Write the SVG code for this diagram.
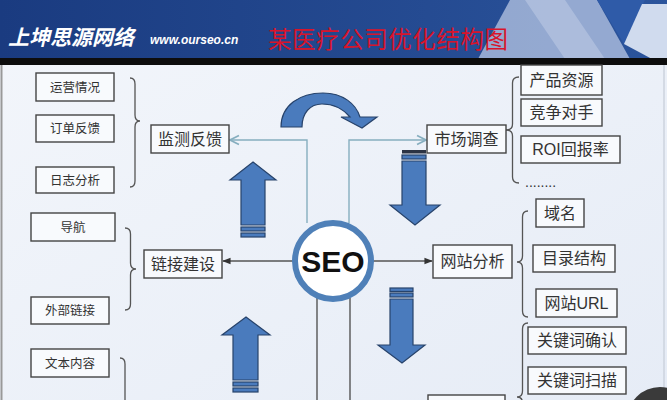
<svg xmlns="http://www.w3.org/2000/svg" width="667" height="400" viewBox="0 0 667 400">
<defs>
<linearGradient id="hdr" x1="0" y1="0" x2="1" y2="0"><stop offset="0" stop-color="#1a3b80"/><stop offset="1" stop-color="#2b549c"/></linearGradient>
<linearGradient id="bg" x1="0" y1="0" x2="1" y2="1"><stop offset="0" stop-color="#f3f6fb"/><stop offset="1" stop-color="#e6ecf6"/></linearGradient>
<marker id="ao" viewBox="0 0 10 10" refX="9" refY="5" markerWidth="8" markerHeight="8" orient="auto"><path d="M1,1 L9,5 L1,9" fill="none" stroke="#86aebf" stroke-width="1.5"/></marker>
<marker id="as" viewBox="0 0 10 10" refX="9" refY="5" markerWidth="6" markerHeight="6" orient="auto"><path d="M0,1 L10,5 L0,9 Z" fill="#333"/></marker>
<style>
.box{fill:#f8fafd;stroke:#444;stroke-width:1.4}
.s{font-family:"Noto Sans CJK SC","Liberation Sans",sans-serif;font-size:12.5px;fill:#333;text-anchor:middle}
.m{font-family:"Liberation Sans","Noto Sans CJK SC",sans-serif;font-size:16px;fill:#333;text-anchor:middle}
.br{fill:none;stroke:#555;stroke-width:1.3}
.blk{fill:#4a7bbd;stroke:#27436b;stroke-width:1.2}
.lt{fill:none;stroke:#86aebf;stroke-width:1.4}
.dk{fill:none;stroke:#555;stroke-width:1.4}
</style>
</defs>
<rect x="0" y="0" width="667" height="400" fill="url(#bg)"/>
<line x1="1.5" y1="60" x2="1.5" y2="400" stroke="#999" stroke-width="2"/>
<line x1="664" y1="60" x2="664" y2="400" stroke="#ccd3de" stroke-width="1.5"/>
<g id="header">
<rect x="0" y="0" width="667" height="59" fill="url(#hdr)"/>
<polygon points="478,59 510,0 597,0 630,59" fill="#a7b9db" opacity="0.85"/>
<polygon points="525,0 565,0 605,59 565,59" fill="#c3d0e7" opacity="0.5"/>
<polygon points="597,0 645,0 624,44" fill="#2f5ba8"/>
<polygon points="642,4 667,4 667,59 652,59 624,44" fill="#d0dbee"/>
<rect x="0" y="58" width="667" height="7" fill="#0d0d0d"/>
<text x="8" y="45" font-family="'Noto Sans CJK SC',sans-serif" font-size="21" font-weight="bold" font-style="italic" fill="#fff">上坤思源网络</text>
<text x="150" y="44" font-family="'Liberation Sans',sans-serif" font-size="12" font-weight="bold" font-style="italic" fill="#fff">www.ourseo.cn</text>
<text x="268" y="48" font-family="'Noto Sans CJK SC',serif" font-size="23.5" fill="#d8142b" textLength="240">某医疗公司优化结构图</text>
</g>
<g id="curved-arrow"><path class="blk" d="M281,127 C281,105 300,93 323,93 C343,93 356,104 360,117 L377,117 L362,128 L341,117 L350,117 C344,110 334,104 322,104 C310,104 302,113 302,127 Z"/></g>
<g id="up-arrow-1"><path class="blk" d="M253,162 L276,180 L265,180 L265,225 L241,225 L241,180 L230,180 Z"/><rect class="blk" x="241" y="227" width="24" height="4"/><rect class="blk" x="241" y="233" width="24" height="4"/></g>
<g id="down-arrow-1"><rect x="402" y="150" width="24" height="3.5" fill="#2b3344"/><rect class="blk" x="402" y="155" width="24" height="4"/><path class="blk" d="M402,161 L426,161 L426,205 L440,205 L415,225 L390,205 L402,205 Z"/></g>
<g id="up-arrow-2"><path class="blk" d="M246,317 L270,335 L258,335 L258,380 L233,380 L233,335 L222,335 Z"/><rect class="blk" x="233" y="382" width="25" height="4"/><rect class="blk" x="233" y="388" width="25" height="4"/></g>
<g id="down-arrow-2"><rect class="blk" x="390" y="288" width="23" height="3.5"/><rect class="blk" x="390" y="293" width="23" height="4"/><path class="blk" d="M390,299 L413,299 L413,345 L425,345 L402,363 L378,345 L390,345 Z"/></g>
<g id="connectors">
<path class="lt" d="M307,223 L307,140 L230,140" marker-end="url(#ao)"/>
<path class="lt" d="M349,223 L349,140 L426,140" marker-end="url(#ao)"/>
<path class="dk" d="M294,261 L223,261" marker-end="url(#as)"/>
<path class="dk" d="M372,261 L432,261" marker-end="url(#as)"/>
<path class="dk" d="M317,298 L317,400"/>
<path class="dk" d="M350,298 L350,400"/>
<path class="br" d="M130,78 Q135,78 135,84 L135,115 Q135,121 140,121 Q135,121 135,127 L135,181 Q135,187 130,187"/>
<path class="br" d="M125,228 Q130.5,228 130.5,234 L130.5,263 Q130.5,269 136,269 Q130.5,269 130.5,275 L130.5,304 Q130.5,310 125,310"/>
<path class="br" d="M120,358 Q125,358 125,364 L125,400"/>
<path class="br" d="M519,77 Q512.5,77 512.5,83 L512.5,124 Q512.5,130 506,130 Q512.5,130 512.5,136 L512.5,177 Q512.5,183 519,183"/>
<path class="br" d="M528,211 Q522.5,211 522.5,217 L522.5,256 Q522.5,262 517,262 Q522.5,262 522.5,268 L522.5,311 Q522.5,317 528,317"/>
<path class="br" d="M528,323 Q522.5,323 522.5,329 L522.5,391 Q522.5,397 517,397 Q522.5,397 522.5,403"/>
</g>
<g id="seo"><circle cx="333" cy="261" r="38" fill="#fff" stroke="#4f80b8" stroke-width="6"/><text x="333" y="272" font-family="'Liberation Sans',sans-serif" font-size="30" font-weight="bold" fill="#111" text-anchor="middle">SEO</text></g>
<g id="n-yunying"><rect class="box" x="36" y="73" width="78" height="28"/><text class="s" x="75" y="92">运营情况</text></g>
<g id="n-dingdan"><rect class="box" x="36" y="115" width="78" height="27"/><text class="s" x="75" y="133">订单反馈</text></g>
<g id="n-rizhi"><rect class="box" x="36" y="167" width="78" height="26"/><text class="s" x="75" y="185">日志分析</text></g>
<g id="n-jiance"><rect class="box" x="151" y="125" width="78" height="28"/><text class="m" x="190" y="145">监测反馈</text></g>
<g id="n-daohang"><rect class="box" x="31" y="213" width="84" height="28"/><text class="s" x="73" y="232">导航</text></g>
<g id="n-waibu"><rect class="box" x="31" y="297" width="78" height="27"/><text class="s" x="70" y="315">外部链接</text></g>
<g id="n-wenben"><rect class="box" x="31" y="349" width="78" height="28"/><text class="s" x="70" y="368">文本内容</text></g>
<g id="n-lianjie"><rect class="box" x="144" y="250" width="78" height="28"/><text class="m" x="183" y="270">链接建设</text></g>
<g id="n-shichang"><rect class="box" x="427" y="125" width="79" height="28"/><text class="m" x="466.500" y="145">市场调查</text></g>
<g id="n-chanpin"><rect class="box" x="521" y="65" width="81" height="30"/><text class="m" x="561.500" y="86">产品资源</text></g>
<g id="n-jingzheng"><rect class="box" x="521" y="99" width="81" height="27"/><text class="m" x="561.500" y="118">竞争对手</text></g>
<g id="n-roi"><rect class="box" x="521" y="136" width="99" height="27"/><text class="m" x="570.500" y="155">ROI回报率</text></g>
<g id="n-dots"><text x="525" y="187" font-family="'Liberation Sans',sans-serif" font-size="14" fill="#333">........</text></g>
<g id="n-wangzhan"><rect class="box" x="433" y="245" width="79" height="33"/><text class="m" x="472.500" y="267">网站分析</text></g>
<g id="n-yuming"><rect class="box" x="536" y="199" width="48" height="28"/><text class="m" x="560" y="219">域名</text></g>
<g id="n-mulu"><rect class="box" x="533" y="245" width="82" height="27"/><text class="m" x="574" y="264">目录结构</text></g>
<g id="n-url"><rect class="box" x="536" y="289" width="81" height="28"/><text class="m" x="576.500" y="309">网站URL</text></g>
<g id="n-queren"><rect class="box" x="528" y="327" width="98" height="27"/><text class="m" x="577" y="346">关键词确认</text></g>
<g id="n-saomiao"><rect class="box" x="528" y="367" width="98" height="27"/><text class="m" x="577" y="386">关键词扫描</text></g>
<g id="n-bottom"><rect class="box" x="428" y="395" width="77" height="20"/></g>
<circle cx="660" cy="420" r="33" fill="#3a3a3a"/>
</svg>
